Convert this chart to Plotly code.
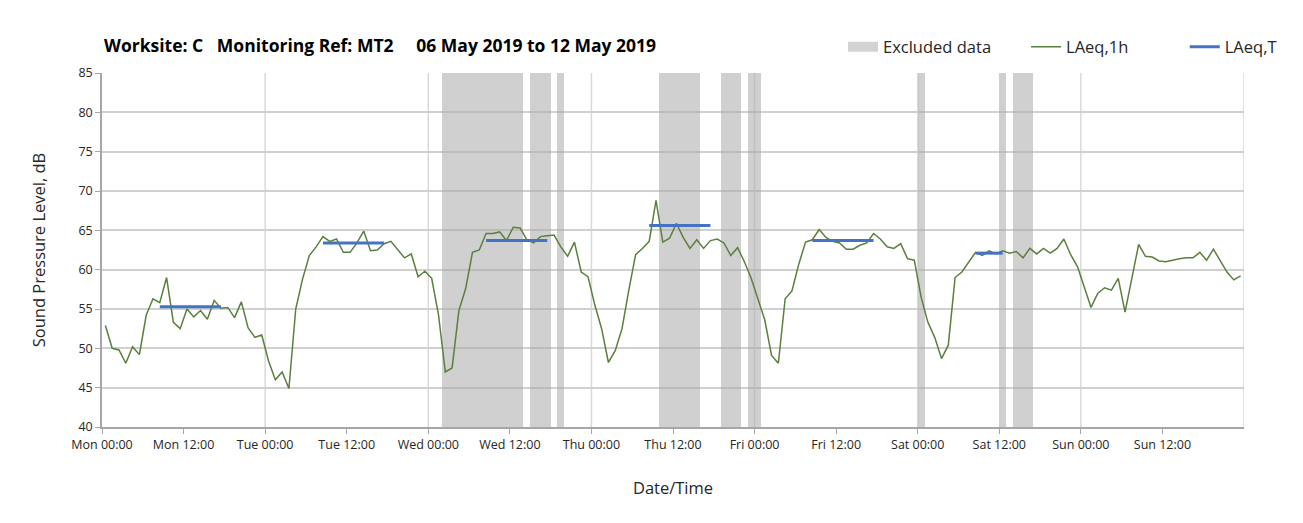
import plotly.graph_objects as go

# hourly LAeq,1h values, Mon 00:00 .. Sun 23:00 (plotted at mid-hour)
laeq_1h = [
    52.9, 50.0, 49.8, 48.1, 50.2, 49.2, 54.2, 56.3, 55.8, 59.0, 53.3, 52.5,
    55.0, 54.0, 54.8, 53.7, 56.1, 55.1, 55.2, 53.9, 55.9, 52.6, 51.4, 51.7,
    48.4, 46.0, 47.0, 44.9, 55.0, 58.8, 61.8, 62.9, 64.2, 63.6, 63.9, 62.2,
    62.2, 63.4, 64.9, 62.4, 62.5, 63.3, 63.6, 62.5, 61.5, 62.0, 59.1, 59.8,
    58.9, 54.3, 47.0, 47.5, 54.8, 57.6, 62.2, 62.5, 64.6, 64.6, 64.8, 63.7,
    65.4, 65.3, 63.8, 63.4, 64.2, 64.3, 64.4, 62.9, 61.7, 63.5, 59.7, 59.1,
    55.5, 52.5, 48.2, 49.7, 52.5, 57.4, 61.9, 62.7, 63.6, 68.8, 63.5, 64.0,
    65.9, 64.1, 62.7, 63.8, 62.7, 63.7, 63.9, 63.4, 61.8, 62.8, 61.0, 58.9,
    56.3, 53.6, 49.1, 48.1, 56.3, 57.3, 60.7, 63.5, 63.8, 65.1, 64.1, 63.6,
    63.4, 62.6, 62.6, 63.1, 63.4, 64.6, 63.9, 62.9, 62.7, 63.3, 61.4, 61.2,
    56.5, 53.3, 51.4, 48.7, 50.4, 59.0, 59.7, 61.0, 62.2, 61.8, 62.4, 62.0,
    62.4, 62.1, 62.3, 61.5, 62.7, 62.0, 62.7, 62.1, 62.7, 63.9, 61.9, 60.4,
    57.8, 55.2, 57.0, 57.7, 57.4, 58.9, 54.6, 58.9, 63.2, 61.7, 61.6, 61.1,
    61.0, 61.2, 61.4, 61.5, 61.5, 62.2, 61.2, 62.6, 61.2, 59.7, 58.7, 59.2,
]

# LAeq,T daytime periods (first hour, last hour, level)
t_start = [8, 32, 56, 80, 104, 128]
t_end = [17, 41, 65, 89, 113, 132]
t_level = [55.3, 63.4, 63.7, 65.6, 63.7, 62.1]

# excluded data periods (hours from Mon 00:00)
excl_start = [50, 63, 67, 82, 91, 95, 120, 132, 134]
excl_end = [62, 66, 68, 88, 94, 97, 121, 133, 137]

tick_hours = list(range(0, 168, 12))
tick_text = ["Mon 00:00", "Mon 12:00", "Tue 00:00", "Tue 12:00", "Wed 00:00", "Wed 12:00",
             "Thu 00:00", "Thu 12:00", "Fri 00:00", "Fri 12:00", "Sat 00:00", "Sat 12:00",
             "Sun 00:00", "Sun 12:00"]
day_lines = list(range(24, 169, 24))

hours = [h + 0.5 for h in range(len(laeq_1h))]

tx, ty = [], []
for s, e, v in zip(t_start, t_end, t_level):
    for h in range(s, e + 1):
        tx.append(h + 0.5)
        ty.append(v)
    tx.append(None)
    ty.append(None)

band_col = "rgba(170,170,170,0.55)"
nb = "\u00a0"

fig = go.Figure()
fig.add_trace(go.Bar(
    x=[(s + e) / 2 for s, e in zip(excl_start, excl_end)],
    y=[45] * len(excl_start), base=40,
    width=[e - s for s, e in zip(excl_start, excl_end)],
    marker=dict(color=band_col, line=dict(width=0)),
    name="Excluded data", showlegend=False, hoverinfo="skip"))
# legend-only entry drawn as a wide grey block
fig.add_trace(go.Scatter(x=[None], y=[None], mode="lines", name="Excluded data" + nb * 7,
                         line=dict(color="#d3d3d3", width=13)))
fig.add_trace(go.Scatter(x=hours, y=laeq_1h, mode="lines", name="LAeq,1h" + nb * 12,
                         line=dict(color="#5b7f3e", width=1.5)))
fig.add_trace(go.Scatter(x=tx, y=ty, mode="lines", name="LAeq,T",
                         line=dict(color="#4472c4", width=3)))

for d in day_lines:
    fig.add_shape(type="line", xref="x", yref="paper", x0=d, x1=d, y0=0, y1=1,
                  line=dict(color="#d9d9d9", width=1.5), layer="below")

fig.add_annotation(text="<b>Worksite: C" + nb * 3 + "Monitoring Ref: MT2" + nb * 5 +
                        "06 May 2019 to 12 May 2019</b>",
                   xref="paper", yref="paper", x=0, y=1 + 28 / 354, xanchor="left", yanchor="middle",
                   showarrow=False, font=dict(size=17.5, color="#000000"))

fig.update_layout(
    width=1295, height=515,
    margin=dict(l=94, r=59, t=65, b=96),
    paper_bgcolor="white", plot_bgcolor="white",
    font=dict(family="Open Sans, sans-serif", color="#404040"),
    bargap=0,
    showlegend=True,
    legend=dict(orientation="h", x=1 + 38 / 1142, xanchor="right", y=1 + 26 / 354, yanchor="middle",
                font=dict(size=16.5, color="#262626"), itemwidth=30,
                traceorder="normal", bgcolor="rgba(0,0,0,0)"),
    xaxis=dict(range=[0, 168], tickvals=tick_hours, ticktext=tick_text,
               showgrid=False, zeroline=False, ticks="outside", ticklen=5,
               tickcolor="#a6a6a6", showline=True, linecolor="#a6a6a6", linewidth=1.5,
               tickfont=dict(size=12.5, color="#262626"),
               title=dict(text="Date/Time", font=dict(size=16.5, color="#262626"), standoff=31)),
    yaxis=dict(range=[40, 85], dtick=5, showgrid=True, gridcolor="#d0d0d0", gridwidth=1.5,
               zeroline=False, ticks="outside", ticklen=5, tickcolor="#a6a6a6",
               showline=True, linecolor="#a6a6a6", linewidth=1.5,
               tickfont=dict(size=12.5, color="#262626"),
               title=dict(text="Sound Pressure Level, dB", font=dict(size=16.5, color="#262626"),
                          standoff=29)),
)

fig.write_html("out.html")
